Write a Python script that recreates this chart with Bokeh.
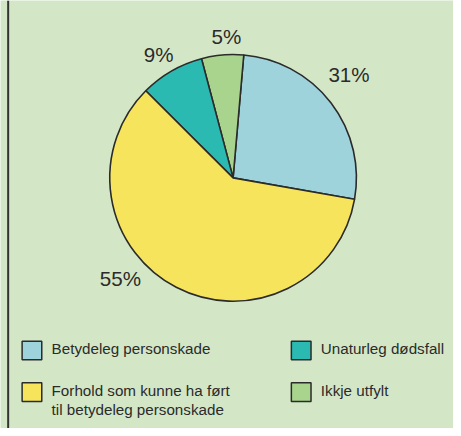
import math
from bokeh.plotting import figure
from bokeh.models import Range1d, Span, ColumnDataSource
from bokeh.core.properties import value
from bokeh.embed import file_html
from bokeh.resources import INLINE

# ---- data ----
categories = ["Betydeleg personskade",
              "Forhold som kunne ha ført\ntil betydeleg personskade",
              "Unaturleg dødsfall",
              "Ikkje utfylt"]
label_text = ["31%", "55%", "9%", "5%"]
# slice sizes as drawn in the picture (percent of the circle)
slice_share = [26.4, 59.7, 8.4, 5.5]
colors = ["#9fd3dc", "#f6e45c", "#2bbab2", "#a9d48e"]

# ---- layout constants ----
BG = "#d3e7c7"
INK = "#2b2b2b"
W, H = 453, 428                          # canvas (fits window with 8px margin)
XR, YR = 461, 436                        # reference coordinate system
CX, CY, R = 236.7, 255.3, 125.5          # pie centre/radius
START_DEG = -10.0
pie_order = [0, 3, 2, 1]                 # anticlockwise drawing order
# label placement (polar, degrees / distance from centre)
label_polar = {0: (41.7, 158), 1: (221.9, 154), 2: (121.0, 147), 3: (92.7, 144)}

p = figure(width=W, height=H, output_backend="svg", toolbar_location=None,
           x_range=Range1d(0, XR), y_range=Range1d(0, YR),
           x_axis_type=None, y_axis_type=None, min_border=0)
p.grid.visible = False
p.outline_line_color = None
p.background_fill_color = BG
p.border_fill_color = BG

# wedges
starts, ends, cols = [], [], []
a = math.radians(START_DEG)
total = sum(slice_share)
for i in pie_order:
    da = 2 * math.pi * slice_share[i] / total
    starts.append(a)
    ends.append(a + da)
    cols.append(colors[i])
    a += da
src = ColumnDataSource(dict(x=[CX] * 4, y=[CY] * 4, s=starts, e=ends, c=cols))
p.wedge(x="x", y="y", radius=R, start_angle="s", end_angle="e",
        fill_color="c", line_color=INK, line_width=1.6, direction="anticlock",
        source=src)

# percentage labels
lx, ly = [], []
for i in range(4):
    ang, rr = label_polar[i]
    lx.append(CX + rr * math.cos(math.radians(ang)))
    ly.append(CY + rr * math.sin(math.radians(ang)))
p.text(x=lx, y=ly, text=label_text, text_align="center", text_baseline="middle",
       text_font=value("Liberation Sans"), text_font_size="20.6px", text_color=INK)

# legend
leg_x = [22, 22, 296, 296]
leg_y = [79.5, 37.0, 79.5, 37.0]
p.rect(x=[v + 10 for v in leg_x], y=leg_y, width=20, height=19,
       fill_color=colors, line_color=INK, line_width=1.5)
tx = [v + 30 for v in leg_x]
p.text(x=tx, y=[v + 10.5 for v in leg_y], text=categories, text_align="left",
       text_baseline="top", text_font=value("Liberation Sans"),
       text_font_size="15.2px", text_color=INK, text_line_height=1.15)

# left frame line
p.add_layout(Span(location=7.8, dimension="height", line_color="#333333", line_width=2))

open("out.html", "w").write(file_html(p, INLINE))
